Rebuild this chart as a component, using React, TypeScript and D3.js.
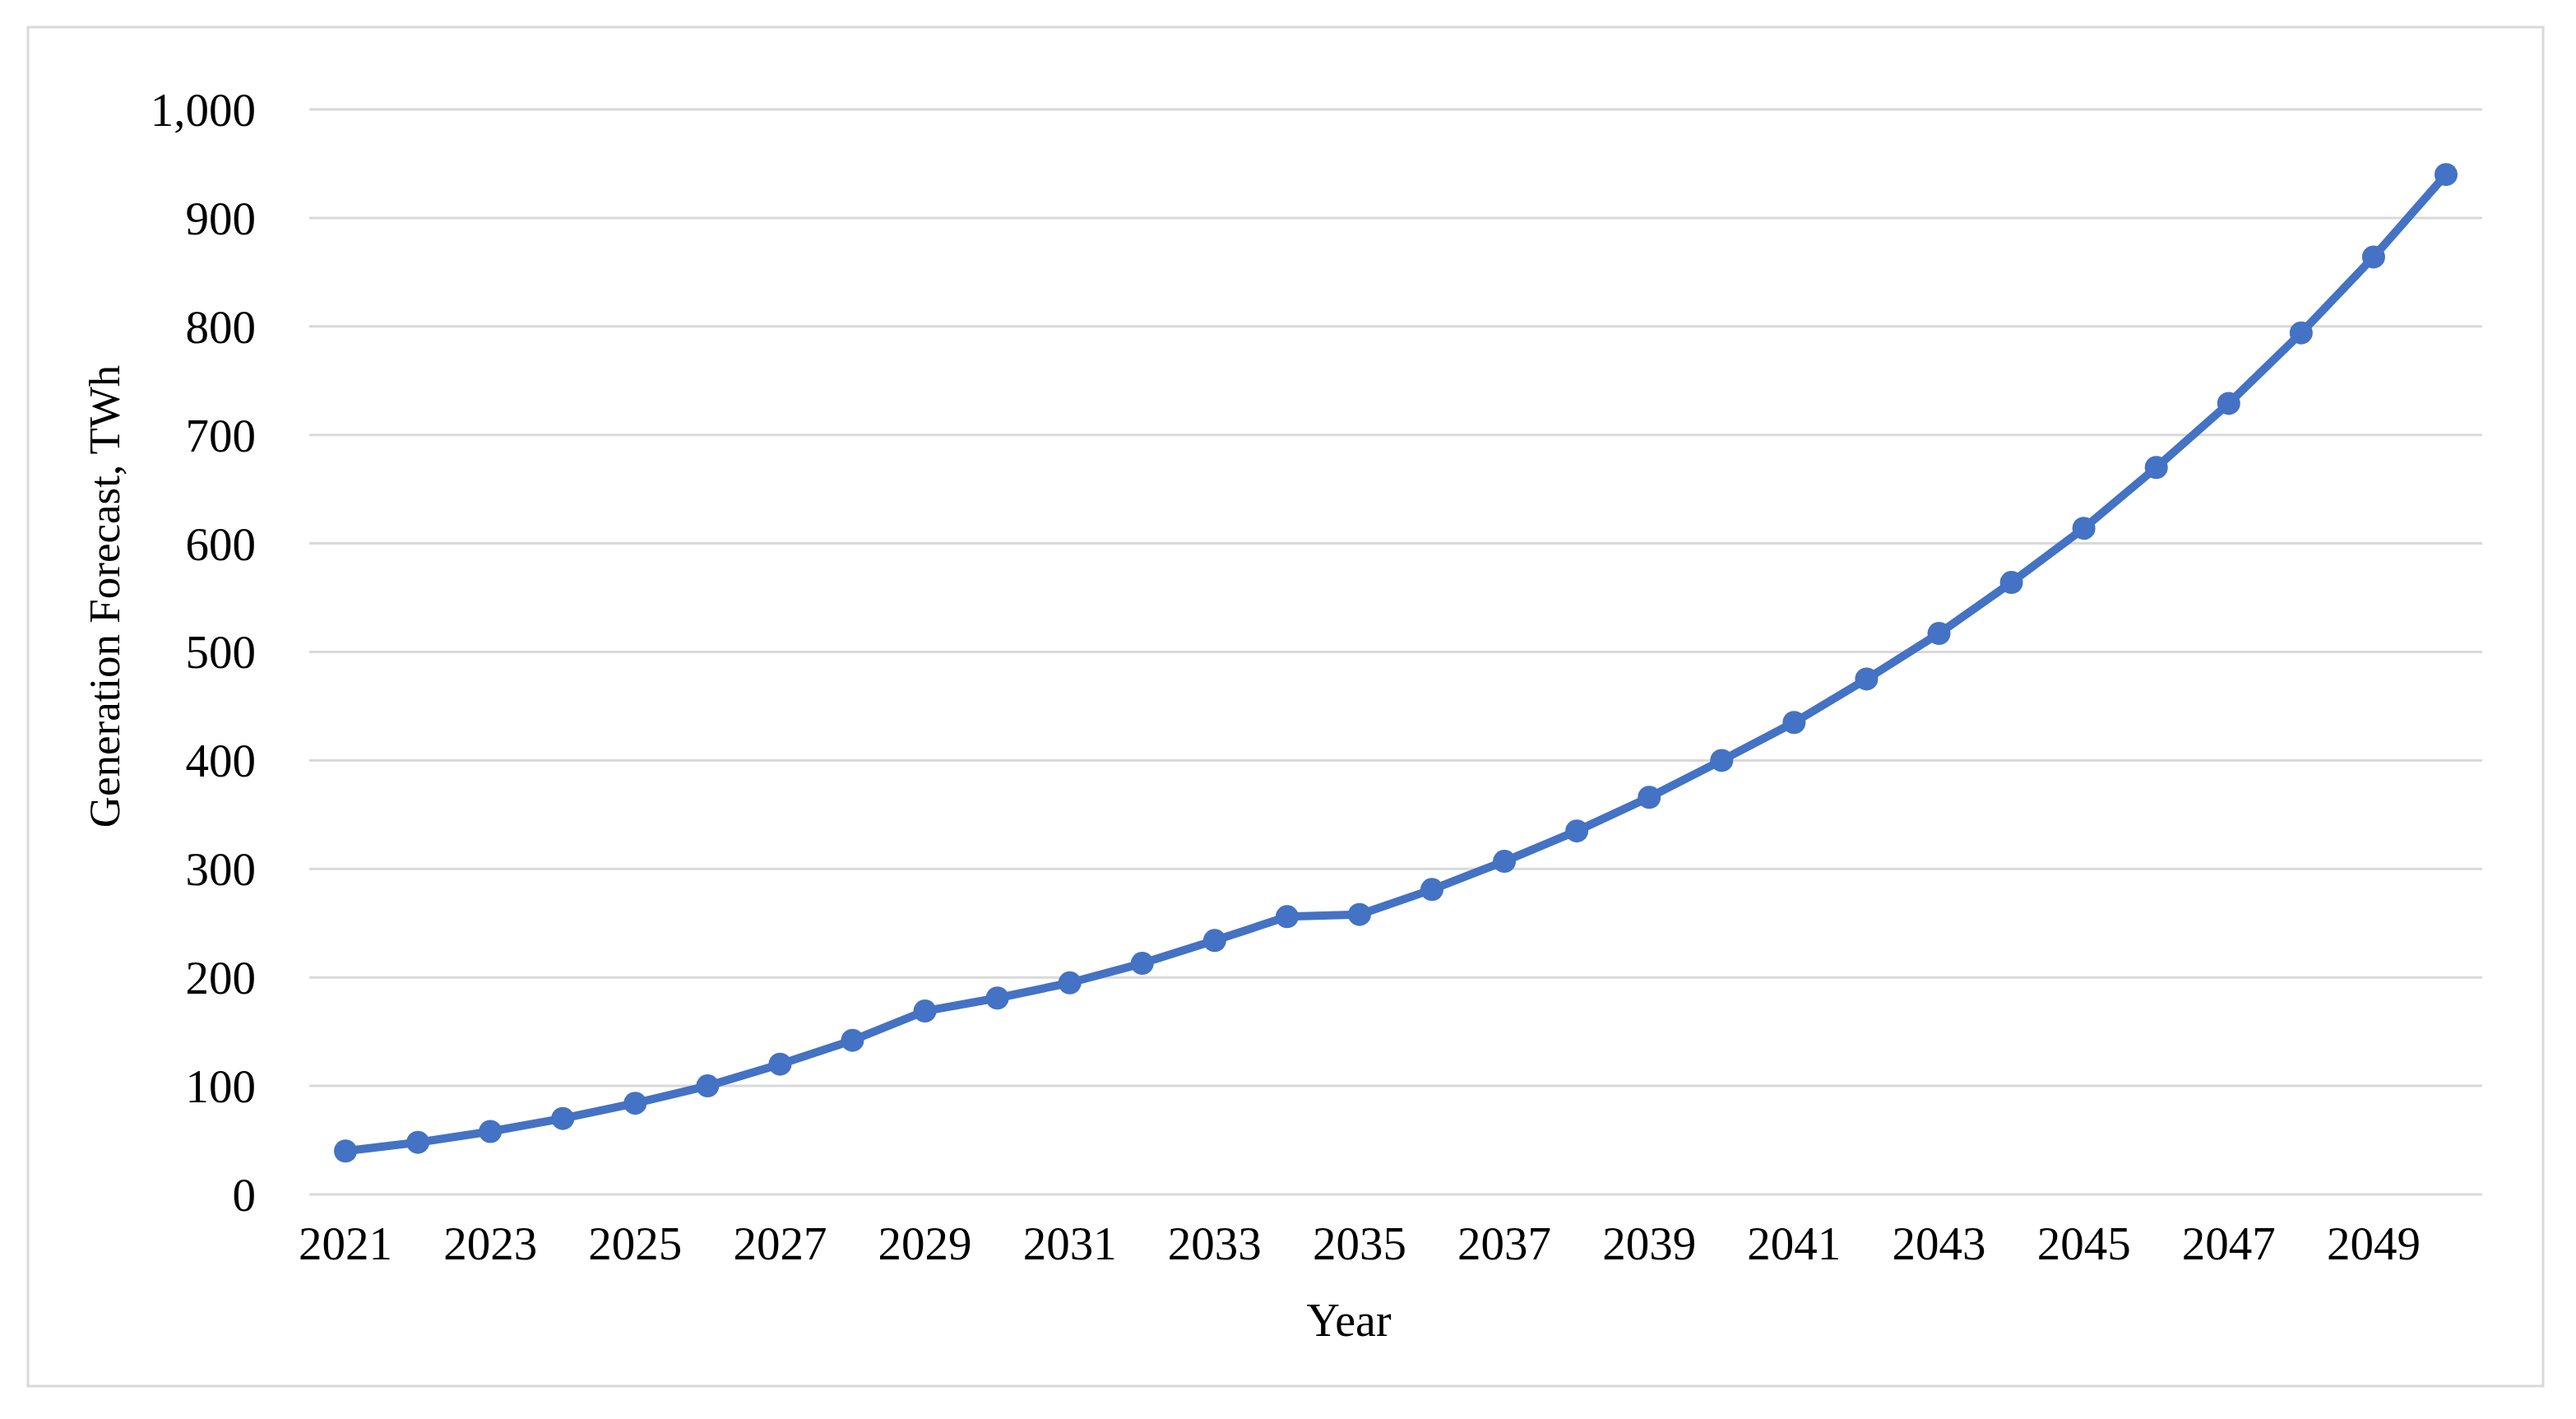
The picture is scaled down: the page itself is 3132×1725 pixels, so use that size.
import React from "react";
import * as d3 from "d3";

// years on the category axis
const years = [
  2021, 2022, 2023, 2024, 2025, 2026, 2027, 2028, 2029, 2030,
  2031, 2032, 2033, 2034, 2035, 2036, 2037, 2038, 2039, 2040,
  2041, 2042, 2043, 2044, 2045, 2046, 2047, 2048, 2049, 2050,
];

// generation forecast, TWh
const generation = [
  40, 48, 58, 70, 84, 100, 120, 142, 169, 181,
  195, 213, 234, 256, 258, 281, 307, 335, 366, 400,
  435, 475, 517, 564, 614, 670, 729, 794, 864, 940,
];

const yTicks = [0, 100, 200, 300, 400, 500, 600, 700, 800, 900, 1000];
const xTickYears = years.filter((_, i) => i % 2 === 0);

const yTitle = "Generation Forecast, TWh";
const xTitle = "Year";

const App = () => {
  const width = 3132;
  const height = 1725;
  const plot = { left: 376, right: 3018, top: 133, bottom: 1452 };
  const font = "'Liberation Serif', 'Times New Roman', serif";
  const blue = "#4472C4";
  const gridColor = "#d9d9d9";

  const x = d3
    .scaleBand<number>()
    .domain(years)
    .range([plot.left, plot.right])
    .padding(0);
  const cx = (yr: number) => (x(yr) ?? 0) + x.bandwidth() / 2;

  const y = d3
    .scaleLinear()
    .domain([0, 1000])
    .range([plot.bottom, plot.top]);

  const points = years.map((yr, i) => ({ yr, v: generation[i] }));

  const line = d3
    .line<{ yr: number; v: number }>()
    .x((d) => cx(d.yr))
    .y((d) => y(d.v));

  const fmt = d3.format(",");

  return (
    <svg
      width={width}
      height={height}
      style={{ position: "absolute", left: 0, top: 0, background: "#fff" }}
    >
      {/* outer chart border */}
      <rect
        x={34}
        y={33}
        width={3058}
        height={1652}
        fill="#fff"
        stroke={gridColor}
        strokeWidth={3}
      />

      {/* horizontal grid lines + y labels */}
      {yTicks.map((t) => (
        <g key={t}>
          <line
            x1={plot.left}
            x2={plot.right}
            y1={y(t)}
            y2={y(t)}
            stroke={gridColor}
            strokeWidth={3}
          />
          <text
            x={311}
            y={y(t)}
            dy="0.35em"
            textAnchor="end"
            fontFamily={font}
            fontSize={57}
            fill="#000"
          >
            {fmt(t)}
          </text>
        </g>
      ))}

      {/* x labels, every other year */}
      {xTickYears.map((yr) => (
        <text
          key={yr}
          x={cx(yr)}
          y={1531}
          textAnchor="middle"
          fontFamily={font}
          fontSize={57}
          fill="#000"
        >
          {yr}
        </text>
      ))}

      {/* series line */}
      <path
        d={line(points) ?? ""}
        fill="none"
        stroke={blue}
        strokeWidth={10}
        strokeLinejoin="round"
      />
      {points.map((d) => (
        <circle key={d.yr} cx={cx(d.yr)} cy={y(d.v)} r={14} fill={blue} />
      ))}

      {/* axis titles */}
      <text
        x={1640}
        y={1624}
        textAnchor="middle"
        fontFamily={font}
        fontSize={56}
        fill="#000"
      >
        {xTitle}
      </text>
      <text
        transform="translate(145,725) rotate(-90)"
        textAnchor="middle"
        fontFamily={font}
        fontSize={53}
        fill="#000"
      >
        {yTitle}
      </text>
    </svg>
  );
};

export default App;
